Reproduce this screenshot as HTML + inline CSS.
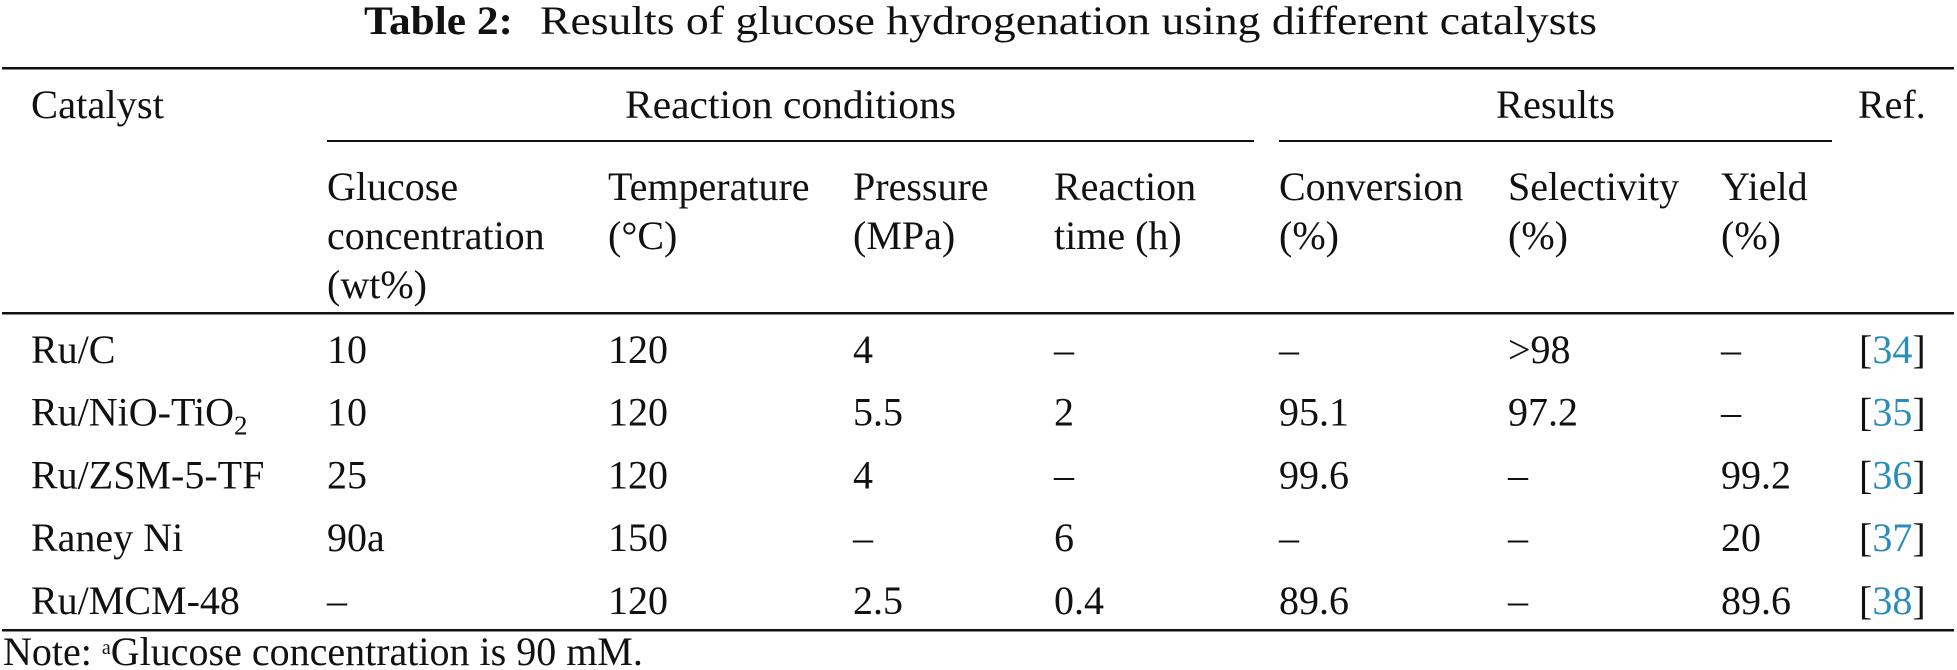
<!DOCTYPE html>
<html><head><meta charset="utf-8"><style>
html,body{margin:0;padding:0;background:#fff;}
svg{display:block;font-family:"Liberation Serif",serif;}
text{fill:#111;font-size:40px;}
.ref{fill:#2a8dbd;}
</style></head><body>
<svg width="1957" height="670" viewBox="0 0 1957 670">
<g>
<text x="364" y="34" font-weight="bold" font-size="42" textLength="149" lengthAdjust="spacingAndGlyphs">Table 2:</text>
<text x="540" y="34" font-size="42" textLength="1057" lengthAdjust="spacingAndGlyphs">Results of glucose hydrogenation using different catalysts</text>
</g>
<rect x="2" y="67" width="1952" height="2.5" fill="#111"/>
<rect x="327" y="140" width="927" height="2" fill="#111"/>
<rect x="1279" y="140" width="553" height="2" fill="#111"/>
<rect x="2" y="312" width="1952" height="2.5" fill="#111"/>
<rect x="2" y="629" width="1952" height="2.5" fill="#111"/>
<g>
<text x="31" y="118" textLength="133" lengthAdjust="spacingAndGlyphs">Catalyst</text>
<text x="625" y="118" textLength="331" lengthAdjust="spacingAndGlyphs">Reaction conditions</text>
<text x="1496" y="118" textLength="119" lengthAdjust="spacingAndGlyphs">Results</text>
<text x="1858" y="118">Ref.</text>
<text x="327" y="200">Glucose</text><text x="327" y="249">concentration</text><text x="327" y="298">(wt%)</text>
<text x="608" y="200">Temperature</text><text x="608" y="249">(°C)</text>
<text x="853" y="200">Pressure</text><text x="853" y="249">(MPa)</text>
<text x="1054" y="200">Reaction</text><text x="1054" y="249">time (h)</text>
<text x="1279" y="200">Conversion</text><text x="1279" y="249">(%)</text>
<text x="1508" y="200">Selectivity</text><text x="1508" y="249">(%)</text>
<text x="1721" y="200">Yield</text><text x="1721" y="249">(%)</text>
</g>
<g id="rows"></g>
<text x="3" y="665" font-size="31">Note: <tspan baseline-shift="super" font-size="20">a</tspan>Glucose concentration is 90 mM.</text>
</svg>
<script>
const catalysts=["Ru/C","Ru/NiO-TiO","Ru/ZSM-5-TF","Raney Ni","Ru/MCM-48"];
const glucose=["10","10","25","90a","–"];
const temperature=["120","120","120","150","120"];
const pressure=["4","5.5","4","–","2.5"];
const times=["–","2","–","6","0.4"];
const conversion=["–","95.1","99.6","–","89.6"];
const selectivity=[">98","97.2","–","–","–"];
const yieldVals=["–","–","99.2","20","89.6"];
const refs=["34","35","36","37","38"];
const colX=[31,327,608,853,1054,1279,1508,1721];
const rowsG=document.getElementById('rows');
const NS="http://www.w3.org/2000/svg";
catalysts.forEach((c,i)=>{
  const y=363+i*62.7;
  const vals=[c,glucose[i],temperature[i],pressure[i],times[i],conversion[i],selectivity[i],yieldVals[i]];
  vals.forEach((v,j)=>{
    const t=document.createElementNS(NS,'text');
    
    
    t.setAttribute('x',colX[j]);t.setAttribute('y',y);
    t.textContent=v;
    if(j===0&&c==="Ru/NiO-TiO"){const s=document.createElementNS(NS,'tspan');s.setAttribute('font-size','27');s.setAttribute('dy','9');s.textContent='2';t.appendChild(s);}
    rowsG.appendChild(t);
  });
  const r=document.createElementNS(NS,'text');
  
  
  r.setAttribute('x',1859);r.setAttribute('y',y);
  r.appendChild(document.createTextNode('['));
  const n=document.createElementNS(NS,'tspan');n.setAttribute('class','ref');n.textContent=refs[i];r.appendChild(n);
  r.appendChild(document.createTextNode(']'));
  rowsG.appendChild(r);
});
</script>
</body></html>
